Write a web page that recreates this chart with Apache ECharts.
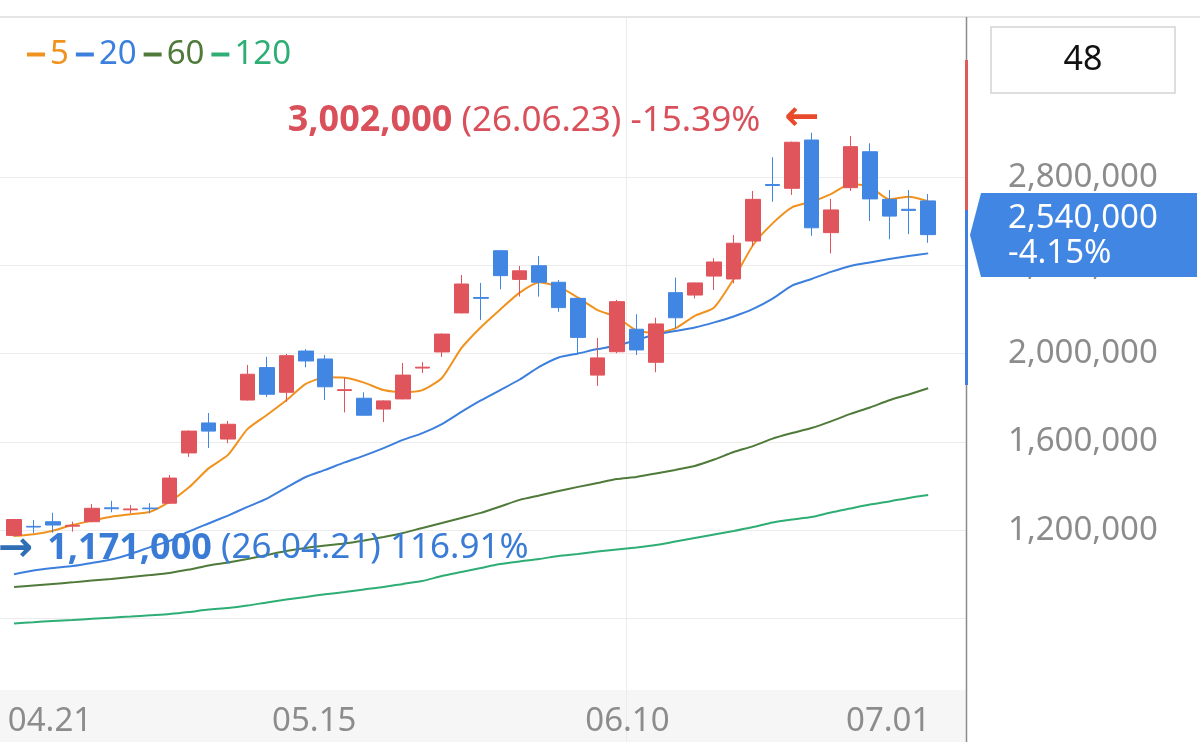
<!DOCTYPE html>
<html lang="ko">
<head>
<meta charset="UTF-8">
<title>차트</title>
<script src="https://cdn.jsdelivr.net/npm/echarts@6/dist/echarts.min.js"></script>
<style>html,body{margin:0;padding:0;background:#fff}</style>
</head>
<body>
<div id="dom" style="width:1200px;height:742px"></div>
<script>
// 일자
var dates = ['04.21','04.22','04.23','04.24','04.27','04.28','04.29','04.30','05.04','05.06',
    '05.07','05.08','05.11','05.12','05.13','05.14','05.15','05.18','05.19','05.20',
    '05.21','05.22','05.26','05.27','05.28','05.29','06.01','06.02','06.04','06.05',
    '06.08','06.09','06.10','06.11','06.12','06.15','06.16','06.17','06.18','06.19',
    '06.22','06.23','06.24','06.25','06.26','06.29','06.30','07.01'];
var opens = [1176000,1217000,1238000,1218000,1238000,1301000,1292000,1300000,1322000,1550000,
    1686000,1613000,1790000,1937000,1825000,2012000,1976000,1833000,1798000,1749000,
    1795000,1935000,2008000,2185000,2255000,2467000,2337000,2399000,2324000,2251000,
    1903000,2009000,2111000,1961000,2277000,2266000,2352000,2339000,2511000,2767000,
    2750000,2969000,2549000,2753000,2916000,2700000,2655000,2693000];
var closes = [1248000,1214000,1223000,1222000,1299000,1297000,1296000,1297000,1436000,1649000,
    1649000,1680000,1907000,1816000,1991000,1967000,1850000,1837000,1721000,1786000,
    1903000,1939000,2089000,2316000,2251000,2354000,2376000,2324000,2209000,2074000,
    1981000,2236000,2017000,2135000,2163000,2321000,2416000,2501000,2700000,2763000,
    2959000,2571000,2652000,2939000,2702000,2624000,2650000,2540000];
var lows = [1171000,1187000,1188000,1193000,1236000,1281000,1276000,1276000,1318000,1532000,
    1572000,1594000,1788000,1804000,1782000,1938000,1790000,1734000,1720000,1690000,
    1793000,1912000,1985000,2183000,2153000,2292000,2259000,2259000,2190000,2003000,
    1854000,2002000,1994000,1916000,2115000,2251000,2289000,2319000,2488000,2689000,
    2720000,2535000,2455000,2738000,2602000,2519000,2542000,2503000];
var highs = [1250000,1246000,1279000,1238000,1318000,1333000,1314000,1322000,1450000,1652000,
    1731000,1695000,1949000,1986000,1999000,2021000,1994000,1891000,1825000,1788000,
    1958000,1962000,2092000,2357000,2321000,2469000,2398000,2443000,2334000,2253000,
    2071000,2244000,2179000,2163000,2345000,2323000,2433000,2538000,2738000,2891000,
    2962000,3002000,2702000,2987000,2954000,2742000,2742000,2724000];
// 이동평균
var ma5 = [1173000,1181000,1197000,1223000,1243000,1261000,1272000,1283000,1329000,1394000,
    1480000,1541000,1658000,1722000,1789000,1863000,1893000,1891000,1869000,1835000,
    1826000,1835000,1890000,2025000,2120000,2201000,2277000,2324000,2304000,2254000,
    2198000,2165000,2105000,2095000,2115000,2172000,2210000,2339000,2493000,2591000,
    2664000,2689000,2724000,2770000,2757000,2700000,2712000,2692000];
var ma20 = [1000000,1017000,1028000,1037000,1051000,1067000,1092000,1123000,1151000,1194000,
    1230000,1266000,1305000,1343000,1393000,1441000,1473000,1507000,1538000,1572000,
    1609000,1640000,1681000,1736000,1788000,1835000,1883000,1940000,1983000,2001000,
    2021000,2037000,2062000,2087000,2103000,2119000,2142000,2169000,2203000,2250000,
    2309000,2339000,2371000,2398000,2414000,2429000,2443000,2455000];
var ma60 = [942000,949000,956000,963000,971000,978000,987000,996000,1006000,1021000,
    1040000,1053000,1069000,1087000,1105000,1119000,1130000,1139000,1153000,1169000,
    1187000,1210000,1232000,1255000,1278000,1307000,1337000,1357000,1377000,1396000,
    1414000,1432000,1441000,1457000,1473000,1491000,1520000,1554000,1581000,1615000,
    1640000,1663000,1693000,1727000,1756000,1789000,1815000,1843000];
var ma120 = [777000,782000,788000,792000,798000,803000,808000,814000,820000,829000,
    840000,847000,858000,872000,885000,897000,909000,919000,931000,942000,
    956000,969000,992000,1010000,1028000,1046000,1058000,1069000,1083000,1092000,
    1103000,1112000,1121000,1132000,1148000,1164000,1180000,1196000,1214000,1235000,
    1248000,1259000,1280000,1298000,1316000,1330000,1346000,1359000];
var maNames = ['5', '20', '60', '120'];
var labelDates = ['04.21', '05.15', '06.10', '07.01'];

var RED = '#e0555c', BLUE = '#4286e3';
var maColors = ['#f0921e', '#3c7fdd', '#4f7a3a', '#2eae74'];
var FONT = 'Noto Sans';

// 가격 <-> 픽셀 (2,800,000 선 y=177.3, 400,000 당 88.2px)
var PPX = 4535, Y2800 = 177.3;
var yMax0 = 2800000 + (Y2800 - 17) * PPX;
var yMin0 = 2800000 - (742 - Y2800) * PPX;

var candles = dates.map(function (d, i) { return [opens[i], closes[i], lows[i], highs[i]]; });
var last = closes.length - 1;
var hiIdx = highs.indexOf(Math.max.apply(null, highs));
var loIdx = lows.indexOf(Math.min.apply(null, lows));
var hi = highs[hiIdx], lo = lows[loIdx];
function fmt(v) { return v.toLocaleString('en-US'); }
function pct(a, b) { return ((a / b - 1) * 100).toFixed(2); }

var labelPad = {'04.21': [0, 0, 0, 72], '05.15': [0, 22, 0, 0], '06.10': [0, 18, 0, 0], '07.01': [0, 80, 0, 0]};
var dateRich = {};
labelDates.forEach(function (d, k) {
    dateRich['d' + k] = {padding: labelPad[d], fontSize: 33, fontFamily: FONT, color: '#8c8c8c'};
});

var dom = document.getElementById('dom');
var myCharts = echarts.init(dom);

var series = [{
    type: 'candlestick',
    xAxisIndex: 0, yAxisIndex: 0,
    data: candles,
    barWidth: 15,
    z: 4,
    itemStyle: {color: RED, color0: BLUE, borderColor: RED, borderColor0: BLUE, borderWidth: 1},
    markPoint: {
        symbol: 'circle', symbolSize: 1, silent: true,
        itemStyle: {color: 'rgba(0,0,0,0)'},
        data: [{
            coord: [hiIdx, hi],
            label: {
                show: true, position: 'inside', align: 'right', verticalAlign: 'middle', offset: [8, -12],
                formatter: '{b|' + fmt(hi) + '}{n| (26.' + dates[hiIdx] + ') ' + pct(closes[last], hi) + '%}{a|←}',
                rich: {
                    b: {fontSize: 36, fontFamily: FONT, fontWeight: 'bold', color: '#d9505a'},
                    n: {fontSize: 35, fontFamily: FONT, color: '#d9505a'},
                    a: {fontSize: 42, fontFamily: 'DejaVu Sans', fontWeight: 'bold', color: '#e84a2c', padding: [0, 0, 4, 24]}
                }
            }
        }, {
            coord: [loIdx, lo],
            label: {
                show: true, position: 'inside', align: 'left', verticalAlign: 'middle', offset: [-16, 12],
                formatter: '{a|→}{b|' + fmt(lo) + '}{n| (26.' + dates[loIdx] + ') ' + pct(closes[last], lo) + '%}',
                rich: {
                    b: {fontSize: 36, fontFamily: FONT, fontWeight: 'bold', color: '#3a7bd5'},
                    n: {fontSize: 35, fontFamily: FONT, color: '#3a7bd5'},
                    a: {fontSize: 42, fontFamily: 'DejaVu Sans', fontWeight: 'bold', color: '#2f6db5', padding: [4, 14, 0, 0]}
                }
            }
        }]
    }
}];
[ma5, ma20, ma60, ma120].forEach(function (arr, k) {
    series.push({
        name: maNames[k], type: 'line', xAxisIndex: 0, yAxisIndex: 0,
        data: arr, symbol: 'none', smooth: 0.2, z: 2,
        lineStyle: {width: 2, color: maColors[k]},
        itemStyle: {color: maColors[k]}
    });
});

var option = {
    animation: false,
    backgroundColor: '#fff',
    legend: {
        left: 22, top: 33, itemWidth: 18, itemHeight: 4, itemGap: 7, icon: 'rect',
        selectedMode: false,
        textStyle: {fontSize: 33, fontFamily: FONT},
        data: maNames.map(function (n, k) { return {name: n, textStyle: {color: maColors[k]}}; })
    },
    grid: [
        {left: 4.3, top: 17, width: 933.6, height: 725, outerBoundsMode: 'none'},
        {left: 0, top: Y2800, width: 966, height: 2000000 / PPX, outerBoundsMode: 'none'}
    ],
    xAxis: [{
        type: 'category', gridIndex: 0, data: dates, boundaryGap: true,
        axisLine: {show: false}, axisTick: {show: false},
        splitLine: {
            show: true, showMinLine: false, showMaxLine: false,
            interval: function (i, v) { return v === '05.15' || v === '06.10'; },
            lineStyle: {color: '#ececec', width: 1}
        },
        axisLabel: {
            show: true, inside: true, margin: 4,
            interval: function (i, v) { return labelDates.indexOf(v) >= 0; },
            formatter: function (v) { return '{d' + labelDates.indexOf(v) + '|' + v + '}'; },
            rich: dateRich
        }
    }, {
        type: 'value', gridIndex: 1, show: false
    }],
    yAxis: [{
        type: 'value', gridIndex: 0, min: yMin0, max: yMax0, show: false
    }, {
        type: 'value', gridIndex: 1, position: 'right',
        min: 800000, max: 2800000, interval: 400000,
        axisLine: {show: false}, axisTick: {show: false},
        splitLine: {show: true, lineStyle: {color: '#ececec', width: 1}},
        axisLabel: {margin: 42, color: '#8c8c8c', fontSize: 33, fontFamily: FONT, showMinLabel: false}
    }],
    graphic: [
        {type: 'rect', z: -1, shape: {x: 0, y: 690, width: 966, height: 52}, style: {fill: '#f6f6f6'}},
        {type: 'line', z: 50, shape: {x1: 0, y1: 17, x2: 1200, y2: 17}, style: {stroke: '#dcdcdc', lineWidth: 1.5}},
        {type: 'line', z: 50, shape: {x1: 966.5, y1: 17, x2: 966.5, y2: 742}, style: {stroke: '#8c8c8c', lineWidth: 1.5}},
        {type: 'rect', z: 51, shape: {x: 965, y: 60, width: 3, height: 150}, style: {fill: '#e05a5a'}},
        {type: 'rect', z: 51, shape: {x: 965, y: 210, width: 3, height: 175}, style: {fill: '#3f7fe0'}},
        {type: 'rect', z: 50, shape: {x: 991, y: 27, width: 184, height: 66}, style: {fill: '#fff', stroke: '#d3d3d3', lineWidth: 1.5}},
        {type: 'text', z: 51, x: 1083, y: 60, style: {text: String(dates.length), fill: '#111', font: '34px "Noto Sans"', align: 'center', verticalAlign: 'middle'}},
        {type: 'polygon', z: 60, shape: {points: [[970, 235], [981, 193], [1197, 193], [1197, 277], [981, 277]]}, style: {fill: BLUE}},
        {type: 'text', z: 61, x: 1008, y: 219, style: {text: fmt(closes[last]), fill: '#fff', font: '33px "Noto Sans"', verticalAlign: 'middle'}},
        {type: 'text', z: 61, x: 1008, y: 254, style: {text: pct(closes[last], closes[last - 1]) + '%', fill: '#fff', font: '33px "Noto Sans"', verticalAlign: 'middle'}}
    ],
    series: series
};
myCharts.setOption(option);
</script>
</body>
</html>
